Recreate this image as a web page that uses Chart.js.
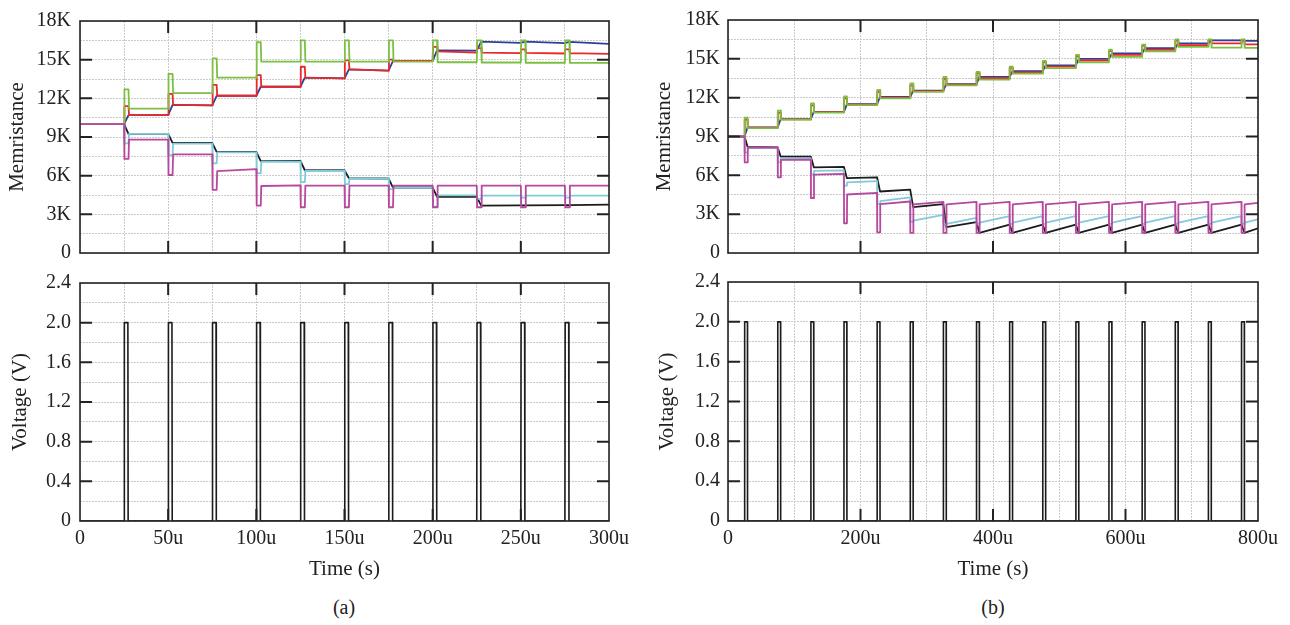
<!DOCTYPE html>
<html>
<head>
<meta charset="utf-8">
<script src="https://cdn.jsdelivr.net/npm/chart.js@4.4.1/dist/chart.umd.min.js"></script>
<style>
  body { margin: 0; background: #fff; width: 1290px; height: 625px; overflow: hidden; position: relative; font-family: "Liberation Serif", "Times New Roman", serif; }
  canvas { position: absolute; }
  .cap { position: absolute; top: 595px; width: 100px; text-align: center; font-size: 20px; line-height: 24px; color: #222; }
</style>
</head>
<body>
<canvas id="memA" width="640" height="275" style="left:0;top:0"></canvas>
<canvas id="voltA" width="640" height="320" style="left:0;top:262px"></canvas>
<canvas id="memB" width="650" height="275" style="left:640px;top:0"></canvas>
<canvas id="voltB" width="650" height="320" style="left:640px;top:262px"></canvas>
<div class="cap" style="left:294px">(a)</div>
<div class="cap" style="left:943px">(b)</div>

<script>
// pulse start times (u = microseconds)
const pulsesA = [25, 50, 75, 100, 125, 150, 175, 200, 225, 250, 275];
const pulsesB = [25, 75, 125, 175, 225, 275, 325, 375, 425, 475, 525, 575, 625, 675, 725, 775];
const vHigh = 2.0;

// (a) memristance, value reached during each pulse / after it / just before the next one
const startA = 10000;
const greenPeakA = [12700, 13900, 15100, 16350, 16500, 16500, 16500, 16500, 16500, 16500, 16500];
const greenLevelA = [11200, 12400, 13600, 14850, 14850, 14850, 14850, 14800, 14780, 14760, 14750];
const redPeakA = [11400, 12350, 13050, 13800, 14450, 14950, 15000, 16000, 15900, 15800, 15800];
const redLevelA = [10700, 11500, 12200, 12900, 13600, 14250, 14900, 15650, 15550, 15520, 15500];
const redEndA = [10700, 11450, 12200, 12900, 13550, 14150, 14900, 15550, 15500, 15480, 15450];
const blueLevelA = [10700, 11500, 12200, 12900, 13600, 14250, 14900, 15720, 16400, 16400, 16380];
const blueEndA = [10700, 11450, 12200, 12900, 13550, 14150, 14900, 15700, 16300, 16280, 16220];
const cyanDipA = [8500, 7600, 6950, 6200, 5500, 5350, 4950, 3600, 4200, 4300, 4300];
const cyanLevelA = [9250, 8480, 7800, 7080, 6380, 5780, 5080, 4470, 4450, 4450, 4450];
const blackLevelA = [9250, 8550, 7850, 7130, 6420, 5800, 5080, 4350, 3680, 3700, 3720];
const blackEndA = [9250, 8550, 7850, 7150, 6420, 5780, 5080, 4350, 3700, 3720, 3760];
const magentaDipA = [7300, 6050, 4900, 3680, 3550, 3550, 3550, 3550, 3550, 3550, 3550];
const magentaLevelA = [8800, 7650, 6350, 5200, 5220, 5220, 5220, 5220, 5220, 5220, 5220];
const magentaEndA = [8800, 7650, 6500, 5250, 5220, 5220, 5220, 5220, 5220, 5220, 5220];

// (b) memristance
const startB = 9000;
const greenPeakB = [10450, 11000, 11550, 12100, 12600, 13100, 13600, 14000, 14400, 14850, 15300, 15700, 16100, 16500, 16500, 16500];
const greenLevelB = [9650, 10300, 10850, 11430, 11950, 12450, 12950, 13400, 13850, 14280, 14730, 15150, 15580, 15920, 15870, 15850];
const redPeakB = [10300, 10850, 11400, 11950, 12450, 12950, 13450, 13900, 14300, 14750, 15200, 15600, 16000, 16400, 16450, 16450];
const redLevelB = [9680, 10330, 10880, 11470, 12000, 12500, 13000, 13500, 13950, 14400, 14870, 15300, 15700, 16050, 16200, 16120];
const blueLevelB = [9700, 10350, 10900, 11500, 12050, 12550, 13050, 13600, 14050, 14500, 15000, 15420, 15820, 16200, 16420, 16380];
const cyanDipB = [7750, 7000, 6100, 5200, 3800, 2400, 2200, 2250, 2250, 2250, 2250, 2250, 2250, 2250, 2250, 2250];
const cyanLevelB = [8100, 7300, 6350, 5450, 4000, 2500, 2250, 2350, 2350, 2350, 2350, 2350, 2350, 2350, 2350, 2350];
const cyanEndB = [8100, 7300, 6380, 5550, 4300, 2950, 2720, 2850, 2850, 2850, 2850, 2850, 2850, 2850, 2850, 2600];
const blackLevelB = [8200, 7450, 6620, 5780, 4750, 3550, 2000, 1550, 1550, 1550, 1550, 1550, 1550, 1550, 1550, 1550];
const blackEndB = [8150, 7450, 6650, 5850, 4900, 3780, 2380, 2200, 2200, 2200, 2200, 2200, 2200, 2200, 2200, 1900];
const magentaDipB = [7000, 5850, 4250, 2300, 1600, 1550, 1550, 1550, 1550, 1550, 1550, 1550, 1550, 1550, 1550, 1550];
const magentaLevelB = [8150, 7200, 6050, 4520, 3780, 3750, 3750, 3750, 3750, 3750, 3750, 3750, 3750, 3750, 3750, 3750];
const magentaEndB = [8150, 7220, 6120, 4650, 3980, 3950, 3950, 3950, 3950, 3950, 3950, 3950, 3950, 3950, 3950, 3880];

const COLORS = { blue: '#2f3f98', red: '#e8282a', green: '#7dbf42', black: '#1c1c1c', cyan: '#80cadb', magenta: '#b6489d' };
const GRID = '#cacaca';
const font = { family: '"Liberation Serif", "Times New Roman", serif', size: 20 };
const titleFont = { family: '"Liberation Serif", "Times New Roman", serif', size: 21 };

// trace that jumps to peak[i] during pulse i, then settles at level[i] and drifts to end[i]
function excursion(pulses, w, start, peak, level, end, tEnd) {
  end = end || level;
  const pts = [{ x: 0, y: start }, { x: pulses[0], y: start }];
  pulses.forEach((p, i) => {
    const next = i + 1 < pulses.length ? pulses[i + 1] : tEnd;
    pts.push({ x: p + 0.2, y: peak[i] }, { x: p + w, y: peak[i] }, { x: p + w + 0.3, y: level[i] }, { x: next, y: end[i] });
  });
  return pts;
}

// trace that ramps straight from the previous value to level[i] over the pulse
function ramp(pulses, w, start, level, end, tEnd) {
  end = end || level;
  const pts = [{ x: 0, y: start }, { x: pulses[0], y: start }];
  pulses.forEach((p, i) => {
    const next = i + 1 < pulses.length ? pulses[i + 1] : tEnd;
    pts.push({ x: p + w, y: level[i] }, { x: next, y: end[i] });
  });
  return pts;
}

function pulseTrace(pulses, w, high, tEnd) {
  const pts = [{ x: 0, y: 0 }];
  pulses.forEach(p => {
    pts.push({ x: p, y: 0 }, { x: p + 0.15, y: high }, { x: p + w - 0.15, y: high }, { x: p + w, y: 0 });
  });
  pts.push({ x: tEnd, y: 0 });
  return pts;
}

function line(color, data, width) {
  return { data, borderColor: color, borderWidth: width || 1.8, fill: false, pointRadius: 0, tension: 0, borderJoinStyle: 'round' };
}

// frame box + inward major ticks on all four sides
const frameTicks = {
  id: 'frameTicks',
  afterDraw(chart, args, opts) {
    const { ctx, chartArea: a, scales: { x, y } } = chart;
    const len = 12;
    ctx.save();
    ctx.strokeStyle = '#222';
    ctx.lineWidth = 2;
    ctx.beginPath();
    for (let k = 1; k * opts.xMajor < x.max - 1e-9; k++) {
      const px = x.getPixelForValue(k * opts.xMajor);
      ctx.moveTo(px, a.top); ctx.lineTo(px, a.top + len);
      ctx.moveTo(px, a.bottom); ctx.lineTo(px, a.bottom - len);
    }
    for (let k = 1; k * opts.yMajor < y.max - 1e-9; k++) {
      const py = y.getPixelForValue(k * opts.yMajor);
      ctx.moveTo(a.left, py); ctx.lineTo(a.left + len, py);
      ctx.moveTo(a.right, py); ctx.lineTo(a.right - len, py);
    }
    ctx.stroke();
    ctx.lineWidth = 1.6;
    ctx.strokeRect(a.left, a.top, a.right - a.left, a.bottom - a.top);
    ctx.restore();
  }
};

function makeChart(id, datasets, cfg) {
  return new Chart(document.getElementById(id), {
    type: 'line',
    data: { datasets },
    options: {
      responsive: false,
      animation: false,
      events: [],
      layout: { padding: { top: cfg.padTop, right: cfg.padRight, left: 0, bottom: 0 } },
      plugins: {
        legend: { display: false },
        tooltip: { enabled: false },
        frameTicks: { xMajor: cfg.xMajor, yMajor: cfg.yMajor }
      },
      scales: {
        x: {
          type: 'linear', min: 0, max: cfg.xMax,
          afterFit: s => { s.height = cfg.xHeight; },
          grid: { color: GRID, lineWidth: 1, drawTicks: false },
          border: { display: false, dash: [2, 1] },
          ticks: {
            display: cfg.xLabels, stepSize: cfg.xStep, autoSkip: false, maxRotation: 0,
            padding: 6, color: '#222', font,
            callback: v => v % cfg.xMajor === 0 ? (v === 0 ? '0' : v + 'u') : ''
          },
          title: { display: cfg.xLabels, text: 'Time (s)', color: '#222', font: titleFont, padding: { top: 0, bottom: 0 } }
        },
        y: {
          min: 0, max: cfg.yMax,
          afterFit: s => { s.width = cfg.yWidth; },
          grid: { color: GRID, lineWidth: 1, drawTicks: false },
          border: { display: false, dash: [2, 1] },
          ticks: { stepSize: cfg.yStep, autoSkip: false, padding: cfg.yPad, color: '#222', font, callback: cfg.yFmt },
          title: { display: true, text: cfg.yTitle, color: '#222', font: titleFont, padding: { top: cfg.titlePad, bottom: 0 } }
        }
      }
    },
    plugins: [frameTicks]
  });
}

const fmtK = v => v % 3000 === 0 ? (v === 0 ? '0' : v / 1000 + 'K') : '';
const fmtV = v => { const k = Math.round(v * 10); return k % 4 === 0 ? (k === 0 ? '0' : (k / 10).toFixed(1)) : ''; };

const wA = 2.5, wB = 4.5, endA = 300, endB = 800;

makeChart('memA', [
  line(COLORS.magenta, excursion(pulsesA, wA, startA, magentaDipA, magentaLevelA, magentaEndA, endA)),
  line(COLORS.green, excursion(pulsesA, wA, startA, greenPeakA, greenLevelA, null, endA)),
  line(COLORS.cyan, excursion(pulsesA, wA, startA, cyanDipA, cyanLevelA, null, endA)),
  line(COLORS.red, excursion(pulsesA, wA, startA, redPeakA, redLevelA, redEndA, endA)),
  line(COLORS.black, ramp(pulsesA, wA, startA, blackLevelA, blackEndA, endA)),
  line(COLORS.blue, ramp(pulsesA, wA, startA, blueLevelA, blueEndA, endA))
], { padTop: 13, padRight: 31, xMax: endA, xStep: 25, xMajor: 50, xHeight: 22, xLabels: false,
     yMax: 18000, yStep: 1500, yMajor: 3000, yWidth: 80, yPad: 9, yFmt: fmtK, yTitle: 'Memristance', titlePad: 5 });

makeChart('voltA', [
  line(COLORS.black, pulseTrace(pulsesA, 2.3, vHigh, endA), 1.6)
], { padTop: 17, padRight: 31, xMax: endA, xStep: 25, xMajor: 50, xHeight: 61, xLabels: true,
     yMax: 2.4, yStep: 0.2, yMajor: 0.4, yWidth: 80, yPad: 9, yFmt: fmtV, yTitle: 'Voltage (V)', titlePad: 8 });

makeChart('memB', [
  line(COLORS.magenta, excursion(pulsesB, wB, startB, magentaDipB, magentaLevelB, magentaEndB, endB)),
  line(COLORS.green, excursion(pulsesB, wB, startB, greenPeakB, greenLevelB, null, endB)),
  line(COLORS.cyan, excursion(pulsesB, wB, startB, cyanDipB, cyanLevelB, cyanEndB, endB)),
  line(COLORS.red, excursion(pulsesB, wB, startB, redPeakB, redLevelB, null, endB)),
  line(COLORS.black, ramp(pulsesB, wB, startB, blackLevelB, blackEndB, endB)),
  line(COLORS.blue, ramp(pulsesB, wB, startB, blueLevelB, null, endB))
], { padTop: 13, padRight: 32, xMax: endB, xStep: 100, xMajor: 200, xHeight: 22, xLabels: false,
     yMax: 18000, yStep: 1500, yMajor: 3000, yWidth: 88, yPad: 8, yFmt: fmtK, yTitle: 'Memristance', titlePad: 12 });

makeChart('voltB', [
  line(COLORS.black, pulseTrace(pulsesB, wB, vHigh, endB), 1.6)
], { padTop: 17, padRight: 32, xMax: endB, xStep: 100, xMajor: 200, xHeight: 61, xLabels: true,
     yMax: 2.4, yStep: 0.2, yMajor: 0.4, yWidth: 88, yPad: 8, yFmt: fmtV, yTitle: 'Voltage (V)', titlePad: 15 });
</script>
</body>
</html>
